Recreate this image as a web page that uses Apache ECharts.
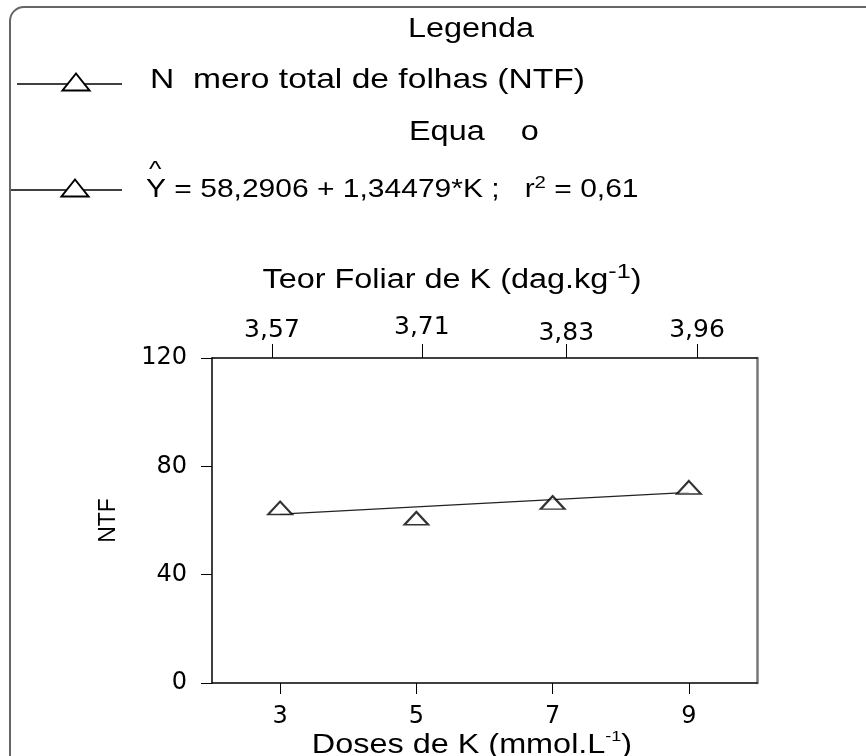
<!DOCTYPE html>
<html>
<head>
<meta charset="utf-8">
<script src="https://cdn.jsdelivr.net/npm/echarts@6/dist/echarts.min.js"></script>
<style>
  html, body { margin: 0; padding: 0; background: #fff; }
  #chart { width: 866px; height: 756px; }
</style>
</head>
<body>
<div id="chart"></div>
<script>
// Doses de K (mmol.L-1) and observed number of leaves
const doses = [3, 5, 7, 9];
const ntf = [64.6, 60.8, 66.6, 72.2];

// Leaf K content shown on the top axis, placed over the dose scale
const topTickPositions = [2.88, 5.08, 7.20, 9.12];
const topTickLabels = ['3,57', '3,71', '3,83', '3,96'];
// small vertical shift of each top label (px upward)
const topLabelLift = [3, 6, 0, 3];

// Fitted equation: Y = b0 + b1*K
const coef = [58.2906, 1.34479];

const FONT = 'Liberation Sans, Arial, Helvetica, sans-serif';
const TICKFONT = 'DejaVu Sans, Liberation Sans, sans-serif';
const WIDE = 1.2; // horizontal stretch applied to the header texts
const fitted = doses.map(d => [d, coef[0] + coef[1] * d]);
const fitLine = [fitted[0], fitted[fitted.length - 1]];

const chart = echarts.init(document.getElementById('chart'), null, { renderer: 'canvas' });

function legendTri(cx, cy, w, h) {
  return {
    type: 'polygon',
    shape: { points: [[cx, cy - h / 2], [cx + w / 2, cy + h / 2], [cx - w / 2, cy + h / 2]] },
    style: { fill: '#fff', stroke: '#000', lineWidth: 2 },
    z: 10
  };
}

function label(x, y, style, align) {
  return {
    type: 'text', x: x, y: y, scaleX: WIDE, z: 10,
    style: Object.assign({ fill: '#000', align: align || 'left', verticalAlign: 'middle' }, style)
  };
}

const topRich = {};
topLabelLift.forEach((lift, i) => {
  topRich['t' + i] = { fontSize: 25, fontFamily: TICKFONT, color: '#000', padding: [0, 0, lift, 0] };
});

const option = {
  backgroundColor: '#fff',
  animation: false,
  grid: { left: 212, top: 358, width: 545, height: 325, containLabel: false },
  xAxis: [
    {
      type: 'value', position: 'bottom', min: 2, max: 10,
      axisLine: { show: true, onZero: false, lineStyle: { color: '#000', width: 1.5 } },
      axisTick: { show: true, length: 11, customValues: doses, lineStyle: { color: '#000', width: 1 } },
      axisLabel: { customValues: doses, margin: 22, color: '#000', fontSize: 24, fontFamily: TICKFONT },
      splitLine: { show: false }
    },
    {
      type: 'value', position: 'top', min: 2, max: 10,
      axisLine: { show: true, onZero: false, lineStyle: { color: '#000', width: 1.5 } },
      axisTick: { show: true, length: 14, customValues: topTickPositions, lineStyle: { color: '#000', width: 1 } },
      axisLabel: {
        customValues: topTickPositions, margin: 12, color: '#000', fontSize: 25, fontFamily: TICKFONT,
        formatter: v => {
          const i = topTickPositions.findIndex(p => Math.abs(p - v) < 1e-6);
          return i >= 0 ? '{t' + i + '|' + topTickLabels[i] + '}' : '';
        },
        rich: topRich
      },
      splitLine: { show: false }
    }
  ],
  yAxis: [
    {
      type: 'value', position: 'left', min: 0, max: 120, interval: 40,
      name: 'NTF', nameLocation: 'middle', nameGap: 92, nameRotate: 90, nameMoveOverlap: false,
      nameTextStyle: { color: '#000', fontSize: 23, fontFamily: FONT },
      axisLine: { show: true, onZero: false, lineStyle: { color: '#000', width: 1.5 } },
      axisTick: { show: true, length: 11, lineStyle: { color: '#000', width: 1 } },
      axisLabel: { margin: 25, color: '#000', fontSize: 24, fontFamily: TICKFONT },
      splitLine: { show: false }
    },
    {
      type: 'value', position: 'right', min: 0, max: 120,
      axisLine: { show: true, onZero: false, lineStyle: { color: '#777', width: 2.5 } },
      axisTick: { show: false }, axisLabel: { show: false }, splitLine: { show: false }
    }
  ],
  series: [
    {
      type: 'line', name: 'fit', data: fitLine, showSymbol: false, symbol: 'none',
      lineStyle: { color: '#222', width: 1.3 }, z: 2
    },
    {
      type: 'scatter', name: 'NTF', data: doses.map((d, i) => [d, ntf[i]]),
      symbol: 'triangle', symbolSize: [24, 13],
      itemStyle: { color: '#fff', borderColor: '#000', borderWidth: 2 }, z: 3
    }
  ],
  graphic: [
    {
      type: 'rect', shape: { x: 10, y: 7, width: 900, height: 800, r: 14 },
      style: { fill: 'none', stroke: '#666', lineWidth: 2 }, z: 1
    },
    label(471, 30, { text: 'Legenda', font: '27px ' + FONT }, 'center'),
    { type: 'line', shape: { x1: 17, y1: 84, x2: 122, y2: 84 }, style: { stroke: '#000', lineWidth: 1.3 } },
    legendTri(76, 82, 27, 17),
    label(150, 80, { text: 'N  mero total de folhas (NTF)', font: '28px ' + FONT }),
    label(409, 133, { text: 'Equa    o', font: '27px ' + FONT }),
    { type: 'line', shape: { x1: 10, y1: 190, x2: 122, y2: 190 }, style: { stroke: '#000', lineWidth: 1.3 } },
    legendTri(75, 188, 27, 17),
    label(149, 170, { text: '^', font: '22px ' + FONT }),
    label(146, 189, {
      text: '{m|Y = 58,2906 + 1,34479*K ;   r}{s|2}{m| = 0,61}',
      rich: {
        m: { fontSize: 25, fontFamily: FONT, lineHeight: 28, verticalAlign: 'bottom' },
        s: { fontSize: 17, fontFamily: FONT, lineHeight: 28, verticalAlign: 'top' }
      }
    }),
    label(452, 278, {
      text: '{m|Teor Foliar de K (dag.kg}{s|-1}{m|)}',
      rich: {
        m: { fontSize: 27, fontFamily: FONT, lineHeight: 32, verticalAlign: 'bottom' },
        s: { fontSize: 21, fontFamily: FONT, lineHeight: 32, verticalAlign: 'top' }
      }
    }, 'center'),
    label(472, 744, {
      text: '{m|Doses de K (mmol.L}{s|-1}{m|)}',
      rich: {
        m: { fontSize: 27, fontFamily: FONT, lineHeight: 30, verticalAlign: 'bottom' },
        s: { fontSize: 15, fontFamily: FONT, lineHeight: 30, verticalAlign: 'top' }
      }
    }, 'center')
  ]
};

chart.setOption(option);
</script>
</body>
</html>
